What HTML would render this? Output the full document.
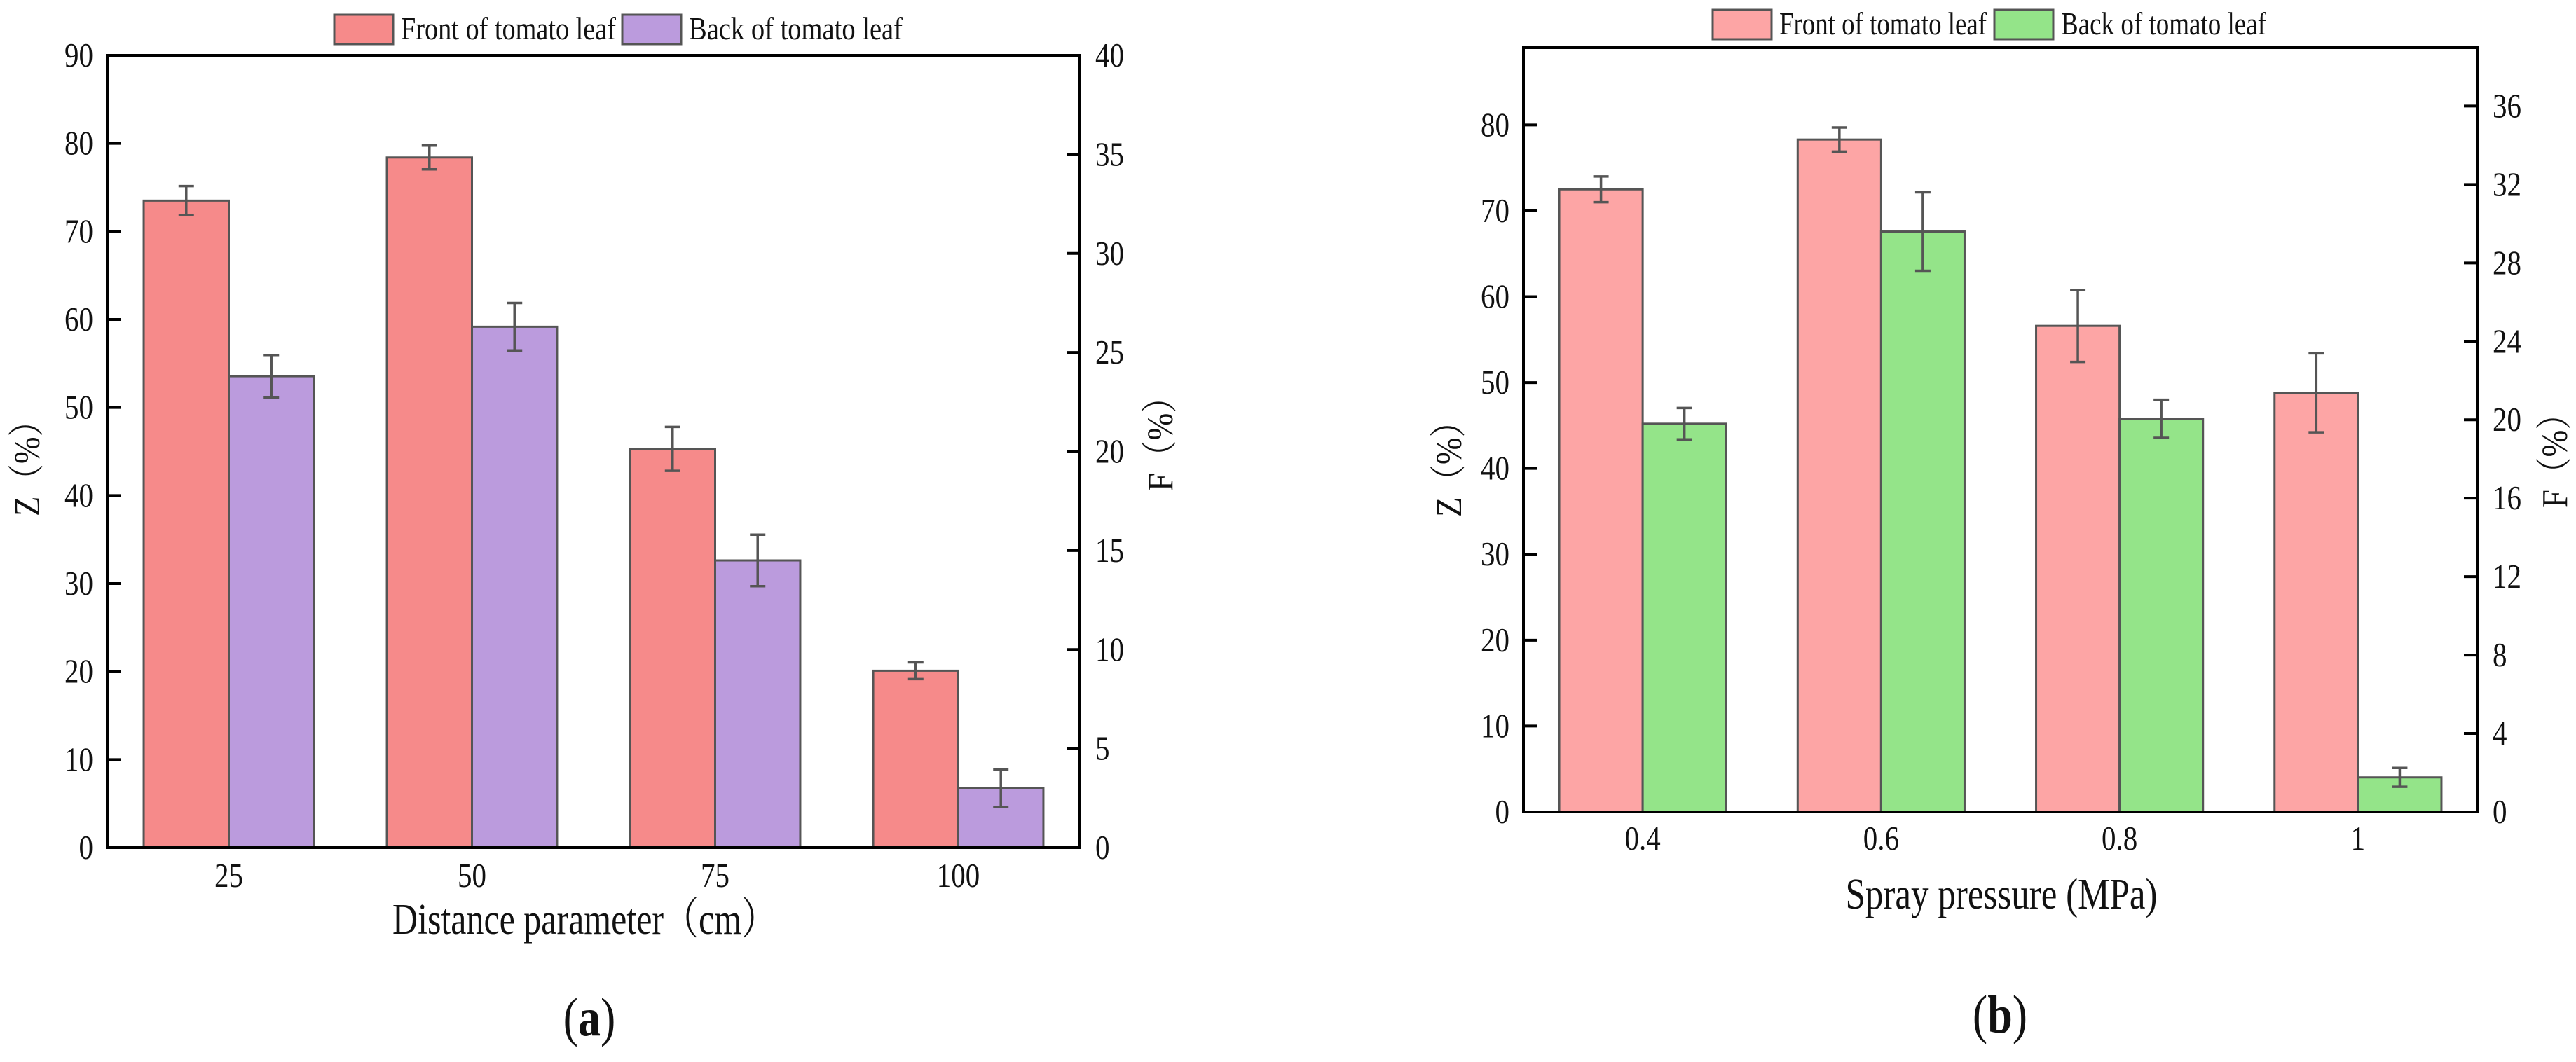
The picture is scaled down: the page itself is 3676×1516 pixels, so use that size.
<!DOCTYPE html>
<html><head><meta charset="utf-8"><style>
html,body{margin:0;padding:0;background:#fff;}
svg{display:block;}
text{font-family:"Liberation Serif","Noto Serif CJK SC",serif;fill:#111;}
</style></head><body>
<svg id="fig" width="3676" height="1516" viewBox="0 0 3676 1516" xmlns="http://www.w3.org/2000/svg"></svg>
<script>
// ---- Chart (a) data ----
const catsA = ["25","50","75","100"];
const frontA = [73.5, 78.4, 45.3, 20.1];      // Z (%)
const frontErrA = [1.65, 1.35, 2.5, 0.95];
const backA = [23.8, 26.3, 14.5, 3.0];        // F (%)
const backErrA = [1.07, 1.2, 1.3, 0.95];
const leftTicksA = [0,10,20,30,40,50,60,70,80,90];
const rightTicksA = [0,5,10,15,20,25,30,35,40];
// ---- Chart (b) data ----
const catsB = ["0.4","0.6","0.8","1"];
const frontB = [72.5, 78.3, 56.6, 48.8];      // Z (%)
const frontErrB = [1.5, 1.4, 4.2, 4.6];
const backB = [19.8, 29.6, 20.05, 1.76];      // F (%)
const backErrB = [0.8, 2.0, 0.97, 0.48];
const leftTicksB = [0,10,20,30,40,50,60,70,80];
const rightTicksB = [0,4,8,12,16,20,24,28,32,36];

const NS = "http://www.w3.org/2000/svg";
const svg = document.getElementById("fig");
function mk(tag, attrs, parent){
  const e = document.createElementNS(NS, tag);
  for (const k in attrs) e.setAttribute(k, attrs[k]);
  (parent||svg).appendChild(e);
  return e;
}
function txt(str, x, y, size, anchor, parent, extra){
  const t = mk("text", {transform:`translate(${x},${y}) scale(1,1.2)`, "font-size":size, "text-anchor":anchor||"middle"}, parent);
  if (extra) for (const k in extra) t.setAttribute(k, extra[k]);
  t.textContent = str;
  return t;
}

function chart(cfg){
  const g = mk("g", {});
  
  
  const L=cfg.left, R=cfg.right, T=cfg.top, B=cfg.bottom;
  const n = cfg.cats.length, step = (R-L)/n;
  const xC = i => L + step*(i+0.5);
  const yL = v => B - (v/cfg.zMax)*(B-T);
  const yR = v => B - (v/cfg.fMax)*(B-T);
  const bw = step*0.35;
  for (let i=0;i<n;i++){
    const y1 = yL(cfg.front[i]);
    const r1 = mk("rect", {x:xC(i)-bw, y:y1, width:bw, height:B-y1, fill:cfg.c1, stroke:"#555", "stroke-width":3}, g);
    
    
    const y2 = yR(cfg.back[i]);
    const r2 = mk("rect", {x:xC(i), y:y2, width:bw, height:B-y2, fill:cfg.c2, stroke:"#555", "stroke-width":3}, g);
    
    
  }
  for (let i=0;i<n;i++){
    const specs = [[xC(i)-bw/2, yL(cfg.front[i]+cfg.frontErr[i]), yL(cfg.front[i]-cfg.frontErr[i]), 'front-error-'],
                   [xC(i)+bw/2, yR(cfg.back[i]+cfg.backErr[i]), yR(cfg.back[i]-cfg.backErr[i]), 'back-error-']];
    for (const s of specs){
      const p = mk("path", {d:`M${s[0]-11},${s[1]}H${s[0]+11}M${s[0]},${s[1]}V${s[2]}M${s[0]-11},${s[2]}H${s[0]+11}`, stroke:"#555", "stroke-width":3.5, fill:"none"}, g);
      
      
    }
  }
  const fr = mk("rect", {x:L, y:T, width:R-L, height:B-T, fill:"none", stroke:"#000", "stroke-width":4}, g);
  
  
  for (const v of cfg.lTicks){
    const y=yL(v);
    mk("line", {x1:L, x2:L+19, y1:y, y2:y, stroke:"#000", "stroke-width":4}, g);
    const t = txt(String(v), L-20, y+16, 41, "end", g);
    
    
  }
  for (const v of cfg.rTicks){
    const y=yR(v);
    mk("line", {x1:R-19, x2:R, y1:y, y2:y, stroke:"#000", "stroke-width":4}, g);
    const t = txt(String(v), R+22, y+16, 41, "start", g);
    
    
  }
  for (let i=0;i<n;i++){
    const t = txt(cfg.cats[i], xC(i), cfg.xLabY, 41, "middle", g);
    
    
  }
  const xt = txt(cfg.xTitle, cfg.xTitleX, cfg.xTitleY, 52, "middle", g, {textLength:cfg.xTitleW, lengthAdjust:"spacingAndGlyphs"});
  
  
  const zt = mk("text", {transform:`translate(${cfg.zX+18},${cfg.zY}) rotate(-90)`, "font-size":52, "text-anchor":"middle", textLength:160, lengthAdjust:"spacingAndGlyphs"}, g);
  zt.textContent = "Z（%）";
  
  
  const ft = mk("text", {transform:`translate(${cfg.fX+18},${cfg.fY}) rotate(-90)`, "font-size":52, "text-anchor":"middle", textLength:158, lengthAdjust:"spacingAndGlyphs"}, g);
  ft.textContent = "F（%）";
  
  
  const lg = mk("g", {}, g);
  
  
  const e1 = mk("rect", {x:cfg.lg[0], y:cfg.lgY, width:84, height:42, fill:cfg.c1, stroke:"#555", "stroke-width":3}, lg);
  
  
  const l1 = txt("Front of tomato leaf", cfg.lg[0]+95, cfg.lgY+35, 38, "start", lg, {textLength:cfg.lgW, lengthAdjust:"spacingAndGlyphs"});
  
  
  const e2 = mk("rect", {x:cfg.lg[1], y:cfg.lgY, width:84, height:42, fill:cfg.c2, stroke:"#555", "stroke-width":3}, lg);
  
  
  const l2 = txt("Back of tomato leaf", cfg.lg[1]+95, cfg.lgY+35, 38, "start", lg, {textLength:cfg.lgW2, lengthAdjust:"spacingAndGlyphs"});
  
  
  const pl = mk("text", {transform:`translate(${cfg.pX},${cfg.pY}) scale(1,1.2)`, "font-size":64, "text-anchor":"middle"}, g);
  
  
  const a1 = mk("tspan", {}, pl); a1.textContent="(";
  const a2 = mk("tspan", {"font-weight":"bold"}, pl); a2.textContent=cfg.panel;
  const a3 = mk("tspan", {}, pl); a3.textContent=")";
}

chart({name:"chart-a-distance", cats:catsA, front:frontA, frontErr:frontErrA, back:backA, backErr:backErrA,
  lTicks:leftTicksA, rTicks:rightTicksA, zMax:90, fMax:40,
  left:153, right:1541, top:79, bottom:1210, c1:"#f68a8a", c2:"#bb9bdd",
  xLabY:1266, xTitle:"Distance parameter（cm）", xTitleX:834, xTitleY:1333, xTitleW:548,
  zX:38, zY:657, fX:1655, fY:622, lg:[477,888], lgY:21, lgW:307, lgW2:305, pX:841, pY:1478, panel:"a"});

chart({name:"chart-b-pressure", cats:catsB, front:frontB, frontErr:frontErrB, back:backB, backErr:backErrB,
  lTicks:leftTicksB, rTicks:rightTicksB, zMax:89, fMax:38.98,
  left:2174, right:3535, top:68, bottom:1159, c1:"#fda5a5", c2:"#94e489",
  xLabY:1213, xTitle:"Spray pressure (MPa)", xTitleX:2856, xTitleY:1297, xTitleW:445,
  zX:2067, zY:658, fX:3645, fY:646, lg:[2444,2846], lgY:14, lgW:296, lgW2:293, pX:2854, pY:1474, panel:"b"});
</script>
</body></html>
